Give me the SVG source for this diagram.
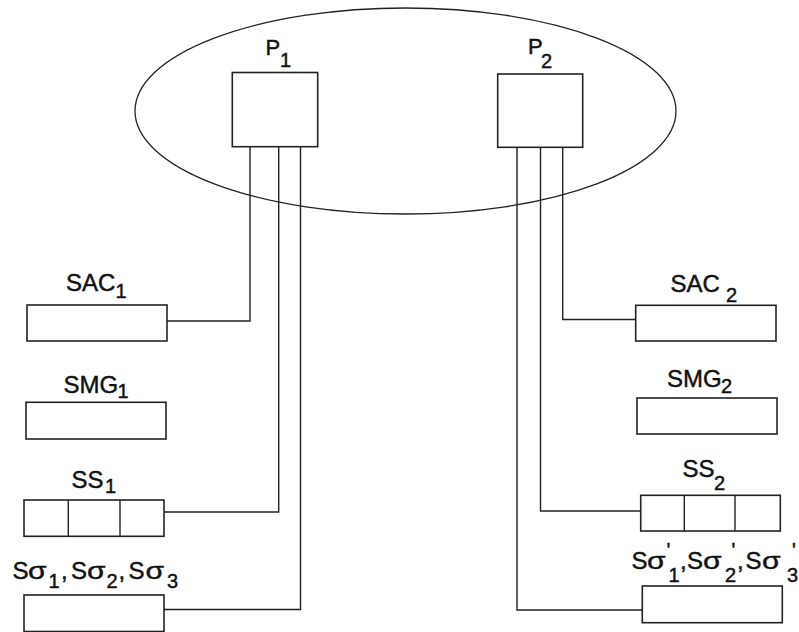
<svg xmlns="http://www.w3.org/2000/svg" width="799" height="632" viewBox="0 0 799 632">
<style>
.bx{fill:#fff;stroke:#222;stroke-width:1.6}
.ln{fill:none;stroke:#222;stroke-width:1.4}
.t{font-family:"Liberation Sans",Arial,sans-serif;font-size:24px;fill:#111;stroke:#111;stroke-width:0.45}
.s{font-size:20px}
.p{font-size:22px}
</style>
<rect width="799" height="632" fill="#fff"/>
<ellipse cx="405.5" cy="111" rx="270.5" ry="103" fill="none" stroke="#222" stroke-width="1.3"/>
<g id="connectors">
<polyline class="ln" points="250,147 250,321 167,321"/>
<polyline class="ln" points="278.7,147 278.7,512 164,512"/>
<polyline class="ln" points="300.5,147 300.5,609.5 164,609.5"/>
<polyline class="ln" points="562.7,147 562.7,319.5 636,319.5"/>
<polyline class="ln" points="540.5,147 540.5,511 641,511"/>
<polyline class="ln" points="517,147 517,610 642,610"/>
</g>
<g id="P1">
<rect class="bx" x="232.3" y="72.5" width="85.4" height="74.2"/>
<text class="t p" x="265.5" y="55">P<tspan class="s" x="280" y="67">1</tspan></text>
</g>
<g id="P2">
<rect class="bx" x="497.7" y="74" width="85" height="73.3"/>
<text class="t p" x="528" y="54">P<tspan class="s" x="541" y="67.5">2</tspan></text>
</g>
<g id="SAC1">
<rect class="bx" x="27" y="305" width="140" height="36"/>
<text class="t" x="66" y="291">SAC<tspan class="s" x="115.5" y="297.5">1</tspan></text>
</g>
<g id="SMG1">
<rect class="bx" x="26" y="402.3" width="140" height="36.7"/>
<text class="t" x="63.5" y="392.7">SMG<tspan class="s" x="117.5" y="397.7">1</tspan></text>
</g>
<g id="SS1">
<rect class="bx" x="24" y="500" width="140" height="36.3"/>
<line class="ln" x1="68.3" y1="500" x2="68.3" y2="536.3"/>
<line class="ln" x1="120" y1="500" x2="120" y2="536.3"/>
<text class="t" x="71.5" y="488.3">SS<tspan class="s" x="105" y="493.3">1</tspan></text>
</g>
<g id="Ssigma1">
<rect class="bx" x="24" y="595" width="140" height="36.5"/>
<text class="t" y="579.3"><tspan x="12.5">S</tspan><tspan class="s" x="48.5" y="588">1</tspan><tspan x="61" y="579.3">,</tspan><tspan x="71">S</tspan><tspan class="s" x="106.5" y="588">2</tspan><tspan x="118.5" y="579.3">,</tspan><tspan x="128.5">S</tspan><tspan class="s" x="167" y="588">3</tspan></text>
<text class="t" transform="translate(28,579.3) scale(1.25,1)">σ</text>
<text class="t" transform="translate(87,579.3) scale(1.25,1)">σ</text>
<text class="t" transform="translate(145.5,579.3) scale(1.25,1)">σ</text>
</g>
<g id="SAC2">
<rect class="bx" x="635.7" y="305.3" width="140.3" height="35.7"/>
<text class="t" x="670.5" y="291.7">SAC<tspan class="s" x="726" y="301.7">2</tspan></text>
</g>
<g id="SMG2">
<rect class="bx" x="637" y="398" width="140" height="36"/>
<text class="t" x="667" y="387">SMG<tspan class="s" x="721" y="393">2</tspan></text>
</g>
<g id="SS2">
<rect class="bx" x="640.7" y="495.3" width="139.6" height="35.7"/>
<line class="ln" x1="684.3" y1="495.3" x2="684.3" y2="531"/>
<line class="ln" x1="735" y1="495.3" x2="735" y2="531"/>
<text class="t" x="682.5" y="476.7">SS<tspan class="s" x="714" y="490">2</tspan></text>
</g>
<g id="Ssigma2">
<rect class="bx" x="642.3" y="586" width="140" height="36.7"/>
<text class="t" y="569.3"><tspan x="631.5">S</tspan><tspan class="s" x="668.5" y="581.7">1</tspan><tspan class="s" x="666.5" y="557">'</tspan><tspan x="680" y="569.3">,</tspan><tspan x="687">S</tspan><tspan class="s" x="725" y="581.7">2</tspan><tspan class="s" x="731.5" y="557">'</tspan><tspan x="737" y="569.3">,</tspan><tspan x="745.5">S</tspan><tspan class="s" x="787" y="581.7">3</tspan><tspan class="s" x="792" y="557">'</tspan></text>
<text class="t" transform="translate(647,569.3) scale(1.25,1)">σ</text>
<text class="t" transform="translate(703,569.3) scale(1.25,1)">σ</text>
<text class="t" transform="translate(762,569.3) scale(1.25,1)">σ</text>
</g>
</svg>
